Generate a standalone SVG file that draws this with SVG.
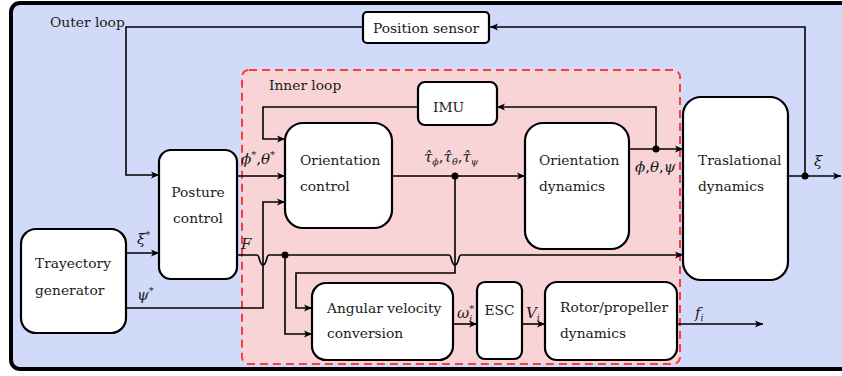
<svg xmlns="http://www.w3.org/2000/svg" width="842" height="376" viewBox="0 0 842 376">
<defs>
<marker id="arr" markerUnits="userSpaceOnUse" markerWidth="9" markerHeight="8" refX="8" refY="4" orient="auto">
<path d="M0,0.5 L8,4 L0,7.5 L2,4 Z" fill="#000"/>
</marker>
</defs>
<style>
.box{fill:#fff;stroke:#000;stroke-width:2.2}
text{font-family:"DejaVu Serif","Liberation Serif",serif;fill:#1a1a1a}
.t{font-size:13.8px}
.m{font-size:15px;font-style:italic}
.n{font-style:normal}
.c{fill:none;stroke:#000;stroke-width:1.6}
.a{marker-end:url(#arr)}
.dot{fill:#000}
</style>
<rect x="11" y="3" width="850" height="366" rx="9" fill="#d2daf9" stroke="#000" stroke-width="4"/>
<rect x="242" y="70" width="438" height="294" rx="7" fill="#f9d4d7" stroke="#ff3c3c" stroke-width="2" stroke-dasharray="8,5"/>
<text class="t" x="50" y="27">Outer loop</text>
<text class="t" x="269" y="90">Inner loop</text>

<g id="connectors">
<path class="c a" d="M363 27 H126 V175 H159"/>
<path class="c a" d="M805 176 V27 H490"/>
<path class="c a" d="M788 176 H841"/>
<path class="c a" d="M126 253 H159"/>
<path class="c a" d="M126 308 H263 V202 H285"/>
<path class="c a" d="M237 176 H285"/>
<path class="c a" d="M418 107 H263 V139 H285"/>
<path class="c a" d="M392 176 H525"/>
<path class="c a" d="M455 176 V273 H296 V308 H312"/>
<path class="c a" d="M629 149 H683"/>
<path class="c a" d="M656 149 V107 H497"/>
<path class="c a" d="M237 255 H257 c3 0 2 10 6 10 c4 0 3 -10 6 -10 H449 c3 0 2 10 6 10 c4 0 3 -10 6 -10 H683"/>
<path class="c a" d="M285 255 V334 H312"/>
<path class="c a" d="M453 324 H477"/>
<path class="c a" d="M522 324 H545"/>
<path class="c a" d="M677 324 H763"/>
<circle class="dot" cx="455" cy="176" r="3.5"/>
<circle class="dot" cx="656" cy="149" r="3.5"/>
<circle class="dot" cx="805" cy="176" r="3.5"/>
<circle class="dot" cx="285" cy="255" r="3.5"/>
<text class="m" x="137" y="244">ξ<tspan class="n" font-size="10" dy="-6">*</tspan></text>
<text class="m" x="137" y="300">ψ<tspan class="n" font-size="10" dy="-6">*</tspan></text>
<text class="m" x="241" y="164">ϕ<tspan class="n" font-size="10" dy="-6">*</tspan><tspan class="n" dy="6">,</tspan>θ<tspan class="n" font-size="10" dy="-6">*</tspan></text>
<text class="m" x="241" y="249">F</text>
<text class="m" x="424" y="162">τ̂<tspan font-size="9.5" dy="3">ϕ</tspan><tspan class="n" dy="-3">,</tspan>τ̂<tspan font-size="9.5" dy="3">θ</tspan><tspan class="n" dy="-3">,</tspan>τ̂<tspan font-size="9.5" dy="3">ψ</tspan></text>
<text class="m" x="635" y="172">ϕ<tspan class="n">,</tspan>θ<tspan class="n">,</tspan>ψ</text>
<text class="m" x="814" y="166">ξ</text>
<text class="m" x="457" y="318">ω<tspan class="n" font-size="10" dy="-6">*</tspan><tspan font-size="9.5" dx="-5" dy="10">i</tspan></text>
<text class="m" x="526" y="318">V<tspan font-size="9.5" dy="3">i</tspan></text>
<text class="m" x="695" y="318">f<tspan font-size="9.5" dy="3">i</tspan></text>
</g>

<g id="position-sensor">
<rect class="box" x="363" y="12" width="126" height="31" rx="4"/>
<text class="t" x="426" y="33" text-anchor="middle">Position sensor</text>
</g>
<g id="trajectory-generator">
<rect class="box" x="21" y="229" width="105" height="104" rx="15"/>
<text class="t" x="35" y="268">Trayectory</text>
<text class="t" x="35" y="295">generator</text>
</g>
<g id="posture-control">
<rect class="box" x="159" y="150" width="78" height="129" rx="12"/>
<text class="t" x="198" y="197" text-anchor="middle">Posture</text>
<text class="t" x="198" y="223" text-anchor="middle">control</text>
</g>
<g id="imu">
<rect class="box" x="418" y="82" width="79" height="43" rx="7"/>
<text class="t" x="433" y="112">IMU</text>
</g>
<g id="orientation-control">
<rect class="box" x="285" y="123" width="107" height="105" rx="18"/>
<text class="t" x="300" y="165">Orientation</text>
<text class="t" x="300" y="191">control</text>
</g>
<g id="orientation-dynamics">
<rect class="box" x="525" y="123" width="104" height="126" rx="18"/>
<text class="t" x="539" y="165">Orientation</text>
<text class="t" x="539" y="191">dynamics</text>
</g>
<g id="traslational-dynamics">
<rect class="box" x="683" y="97" width="105" height="183" rx="18"/>
<text class="t" x="698" y="165">Traslational</text>
<text class="t" x="698" y="191">dynamics</text>
</g>
<g id="angular-velocity-conversion">
<rect class="box" x="312" y="283" width="141" height="77" rx="14"/>
<text class="t" x="327" y="313">Angular velocity</text>
<text class="t" x="327" y="338">conversion</text>
</g>
<g id="esc">
<rect class="box" x="477" y="282" width="45" height="77" rx="8"/>
<text class="t" x="499.5" y="315" text-anchor="middle">ESC</text>
</g>
<g id="rotor-propeller-dynamics">
<rect class="box" x="545" y="282" width="132" height="78" rx="12"/>
<text class="t" x="560" y="312">Rotor/propeller</text>
<text class="t" x="560" y="338">dynamics</text>
</g>
</svg>
